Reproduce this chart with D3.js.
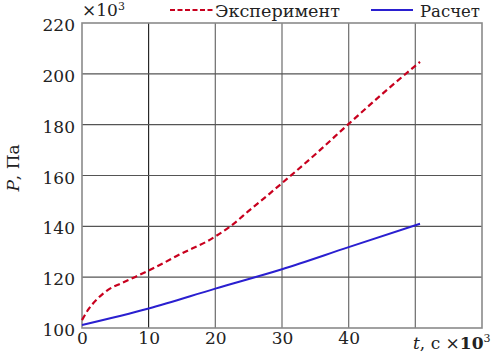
<!DOCTYPE html>
<html><head><meta charset="utf-8">
<script src="https://cdn.jsdelivr.net/npm/d3@7"></script>
<style>
html,body{margin:0;padding:0;background:#fff;}
svg text{font-family:"DejaVu Serif",serif;fill:#222;}
</style></head>
<body><svg id="c" width="493" height="355"></svg>
<script>
const expT = [0, 0.9, 2.4, 3.9, 5.9, 7.9, 10, 12.4, 14.4, 16.2, 18.7, 20.1, 22.2, 25.2, 28.2, 30, 35.2, 40, 45, 50.7];
const expP = [103.1, 107.1, 111.7, 115, 117.6, 120.0, 122.6, 125.8, 128.6, 130.9, 134, 136.2, 139.9, 146.5, 153, 157, 168.8, 180.3, 192, 204.7];
const calcT = [0, 10, 20, 30, 40, 50.7];
const calcP = [101.2, 107.7, 115.5, 123.1, 131.8, 141];
const xTicks = [0, 10, 20, 30, 40];
const yTicks = [100, 120, 140, 160, 180, 200, 220];
const legendLabels = ["Эксперимент", "Расчет"];

const FONT = "'DejaVu Serif', serif";
const svg = d3.select("#c");
const L = 82, R = 482, T = 23, B = 328;
const x = d3.scaleLinear().domain([0, 60]).range([L, R]);
const y = d3.scaleLinear().domain([100, 220]).range([B, T]);

// grid
const g = svg.append("g");
[10,20,30,40,50].forEach(v => {
  g.append("line").attr("x1", x(v)).attr("x2", x(v)).attr("y1", T).attr("y2", B)
   .attr("stroke", v === 10 ? "#000" : "#777").attr("stroke-width", v === 10 ? 1 : 1.3);
});
[120,140,160,180,200].forEach(v => {
  g.append("line").attr("x1", L).attr("x2", R).attr("y1", y(v)).attr("y2", y(v))
   .attr("stroke", "#555").attr("stroke-width", 1.2);
});
g.append("rect").attr("x", L).attr("y", T).attr("width", R - L).attr("height", B - T)
 .attr("fill", "none").attr("stroke", "#8a8a8a").attr("stroke-width", 1.6);

// axes labels via d3 axes
const yAxis = svg.append("g").attr("transform", `translate(${L},0)`)
  .call(d3.axisLeft(y).tickValues(yTicks).tickSize(0).tickPadding(7));
const xAxis = svg.append("g").attr("transform", `translate(0,${B})`)
  .call(d3.axisBottom(x).tickValues(xTicks).tickSize(0).tickPadding(4));
[yAxis, xAxis].forEach(a => {
  a.attr("font-family", FONT);
  a.select(".domain").remove();
  a.selectAll("text").style("font-family", FONT).attr("font-size", 17).attr("fill", "#222");
});
yAxis.selectAll("text").attr("dy", "0.45em");

// lines
const line = d3.line().x(d => x(d[0])).y(d => y(d[1])).curve(d3.curveMonotoneX);
svg.append("path").datum(expT.map((t, i) => [t, expP[i]]))
  .attr("d", line).attr("fill", "none").attr("stroke", "#c8001e").attr("stroke-width", 2.2)
  .attr("stroke-dasharray", "6,3.5");
svg.append("path").datum(calcT.map((t, i) => [t, calcP[i]]))
  .attr("d", line).attr("fill", "none").attr("stroke", "#2a1fd0").attr("stroke-width", 2);

// legend
svg.append("line").attr("x1", 170).attr("x2", 213).attr("y1", 10).attr("y2", 10)
  .attr("stroke", "#c8001e").attr("stroke-width", 1.8).attr("stroke-dasharray", "5,2.5");
svg.append("text").attr("x", 215).attr("y", 17).attr("font-size", 17)
  .attr("textLength", 125).attr("lengthAdjust", "spacingAndGlyphs").text(legendLabels[0]);
svg.append("line").attr("x1", 371).attr("x2", 413).attr("y1", 10).attr("y2", 10)
  .attr("stroke", "#2a1fd0").attr("stroke-width", 1.8);
svg.append("text").attr("x", 420).attr("y", 17).attr("font-size", 17)
  .attr("textLength", 60).attr("lengthAdjust", "spacingAndGlyphs").text(legendLabels[1]);

// multiplier top-left
const m = svg.append("text").attr("x", 82).attr("y", 16).attr("font-size", 17);
m.append("tspan").text("×10");
m.append("tspan").attr("font-size", 11).attr("dy", -6).text("3");

// y label
svg.append("text").attr("transform", "translate(19,168) rotate(-90)").attr("text-anchor", "middle")
  .attr("font-size", 17)
  .html('<tspan font-style="italic">P</tspan>, Па');

// x label
const xl = svg.append("text").attr("x", 413).attr("y", 349).attr("font-size", 17);
xl.append("tspan").attr("font-style", "italic").text("t");
xl.append("tspan").text(", с ×");
xl.append("tspan").attr("font-weight", "bold").text("10");
xl.append("tspan").attr("font-size", 11).attr("dy", -7).text("3");
</script></body></html>
